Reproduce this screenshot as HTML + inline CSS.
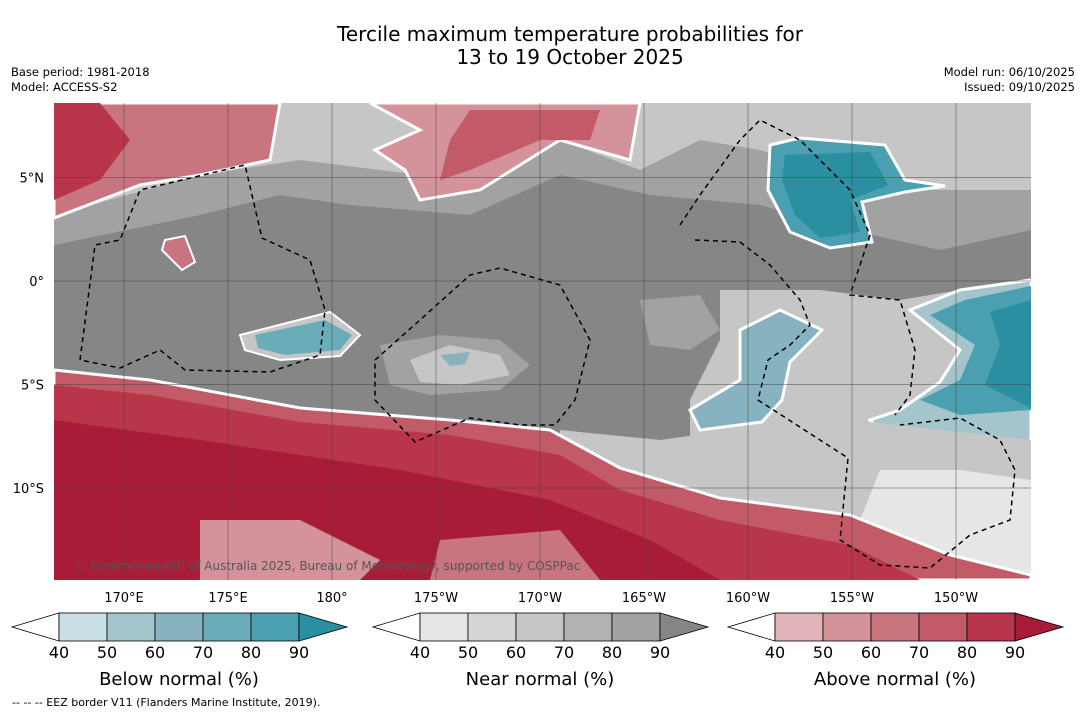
<!DOCTYPE html>
<html><head><meta charset="utf-8"><style>
body{margin:0;background:#fff;font-family:"DejaVu Sans","Liberation Sans",sans-serif;}
svg{display:block}
</style></head><body>
<svg width="1085" height="713" viewBox="0 0 1085 713">
<text x="570" y="41" font-size="20" text-anchor="middle">Tercile maximum temperature probabilities for</text>
<text x="570" y="64" font-size="20" text-anchor="middle">13 to 19 October 2025</text>
<text x="11" y="76" font-size="11.5">Base period: 1981-2018</text>
<text x="11" y="91" font-size="11.5">Model: ACCESS-S2</text>
<text x="1075" y="76" font-size="11.5" text-anchor="end">Model run: 06/10/2025</text>
<text x="1075" y="91" font-size="11.5" text-anchor="end">Issued: 09/10/2025</text>
<defs><clipPath id="mc"><rect x="54" y="103" width="977" height="477"/></clipPath></defs>
<g clip-path="url(#mc)">
<rect x="54" y="103" width="977" height="477" fill="#868686"/>
<polygon fill="#a2a2a2" points="54,103 1031,103 1031,230 940,250 850,230 760,205 650,195 560,175 470,215 350,205 280,195 200,215 54,245"/>
<polygon fill="#c6c6c6" points="54,103 1031,103 1031,190 900,190 760,150 700,140 640,170 560,140 460,180 380,170 300,160 200,175 54,215"/>
<polygon fill="#c97580" stroke="#fff" stroke-width="3" points="54,103 280,103 270,160 200,175 140,185 54,218"/>
<polygon fill="#b8354a" points="54,103 100,103 130,140 100,180 54,200"/>
<polygon fill="#d4939a" stroke="#fff" stroke-width="3" points="370,103 640,103 630,160 560,140 480,190 420,200 405,170 375,150 420,130"/>
<polygon fill="#c25a68" points="470,110 600,110 590,140 540,140 470,170 440,180 450,140"/>
<polygon fill="#4a9fb0" stroke="#fff" stroke-width="3" points="770,145 800,138 885,145 905,180 945,186 905,192 862,202 872,242 830,248 790,232 768,190"/>
<polygon fill="#2a8fa0" points="785,155 870,152 888,185 850,200 860,232 820,238 795,215 782,180"/>
<polygon fill="#c97580" stroke="#fff" stroke-width="2" points="165,240 185,236 195,262 182,270 162,250"/>
<polygon fill="#a2a2a2" points="640,300 700,295 720,330 690,350 650,345"/>
<polygon fill="#c6c6c6" points="720,290 820,290 900,300 960,290 1031,280 1031,460 900,470 830,440 760,440 690,440 690,400 720,340"/>
<polygon fill="#a3c5cb" stroke="#fff" stroke-width="3" points="1031,280 960,290 910,310 960,350 940,382 900,410 870,420 900,452 950,462 1000,456 1031,450"/>
<polygon fill="#4a9fb0" points="1031,286 965,300 930,315 975,345 960,380 920,400 960,415 1031,410"/>
<polygon fill="#2a8fa0" points="1031,300 990,312 1000,345 985,385 1031,408"/>
<polygon fill="#86b3bf" stroke="#fff" stroke-width="3" points="740,330 780,310 822,330 790,362 782,400 762,422 700,430 690,410 740,380"/>
<polygon fill="#c6c6c6" stroke="#fff" stroke-width="2" points="240,335 330,312 360,335 340,356 280,360 245,350"/>
<polygon fill="#6aacb7" points="255,335 325,320 352,335 340,350 285,355 258,348"/>
<polygon fill="#a2a2a2" points="380,345 440,335 500,340 530,365 500,390 430,395 390,385"/>
<polygon fill="#c6c6c6" points="410,360 450,345 500,355 510,375 460,385 420,382"/>
<polygon fill="#86b3bf" points="440,355 470,352 465,364 450,366"/>
<polygon fill="#c6c6c6" points="560,430 660,440 730,430 850,420 1031,440 1031,580 560,580"/>
<polygon fill="#e6e6e6" points="880,470 960,470 1031,480 1031,580 900,560 860,520"/>
<polygon fill="#c25a68" stroke="#fff" stroke-width="3" points="54,370 150,380 300,408 450,420 550,430 620,468 720,498 850,515 950,555 1031,575 1031,580 54,580"/>
<polygon fill="#b8354a" points="54,385 150,395 300,422 450,435 560,455 620,490 720,520 850,545 920,580 54,580"/>
<polygon fill="#a81c38" points="54,420 200,440 400,470 550,500 650,540 720,580 54,580"/>
<polygon fill="#d4939a" points="200,520 300,520 380,560 360,580 200,580"/>
<polygon fill="#c97580" points="440,540 560,530 600,580 430,580"/>
<g fill="none" stroke="#000" stroke-width="1.5" stroke-dasharray="5,4">
<polyline points="80,360 95,245 120,240 140,190 245,165 262,238 310,260 325,310 320,355 270,372 185,370 160,350 120,368 80,360"/>
<polyline points="375,360 420,320 470,275 500,268 560,285 590,340 575,400 555,425 520,425 470,418 415,442 375,400 375,360"/>
<polyline points="680,225 700,195 740,140 760,120 800,140 850,190 870,235 850,295 900,300 915,350 910,395 895,415"/>
<polyline points="695,240 740,242 770,265 800,300 810,325 790,345 768,360 758,400 848,458 840,540 880,565 930,568 970,535 1010,520 1015,470 1000,440 960,418 900,425"/>
</g>
<g id="grid"></g>
<text x="75" y="570" font-size="12" fill="#555">© Commonwealth of Australia 2025, Bureau of Meteorology, supported by COSPPac</text>
</g>
<g id="axes"></g>
<g id="bars"></g>
<text x="12" y="706" font-size="11">--  --  -- EEZ border V11 (Flanders Marine Institute, 2019).</text>
</svg>
<script>
const lonTicks=[170,175,180,-175,-170,-165,-160,-155,-150];
const lonLabels=["170°E","175°E","180°","175°W","170°W","165°W","160°W","155°W","150°W"];
const latTicks=[5,0,-5,-10];
const latLabels=["5°N","0°","5°S","10°S"];
const levels=[40,50,60,70,80,90];
const belowColors=["#c8e0e6","#a3c5cb","#86b3bf","#6aacb7","#4a9fb0","#2a8fa0"];
const nearColors=["#e6e6e6","#d6d6d6","#c6c6c6","#b2b2b2","#a2a2a2","#868686"];
const aboveColors=["#e0b4b8","#d4939a","#c97580","#c25a68","#b8354a","#a81c38"];
const NS="http://www.w3.org/2000/svg";
function xLon(l){const e=l<0?360+l:l;return 124+(e-170)*20.8;}
function yLat(l){return 281-l*20.7;}
function mk(t,a,p){const e=document.createElementNS(NS,t);for(const k in a)e.setAttribute(k,a[k]);p.appendChild(e);return e;}
const grid=document.getElementById('grid'),axes=document.getElementById('axes'),bars=document.getElementById('bars');
lonTicks.forEach((l,i)=>{const x=xLon(l);
const ln=mk('line',{x1:x,x2:x,y1:103,y2:580,stroke:'#444','stroke-width':0.5},grid);

const t=mk('text',{x:x,y:602,'font-size':13,'text-anchor':'middle'},axes);t.textContent=lonLabels[i];
});
latTicks.forEach((l,i)=>{const y=yLat(l);
const ln=mk('line',{x1:54,x2:1031,y1:y,y2:y,stroke:'#444','stroke-width':0.5},grid);

const t=mk('text',{x:44,y:y+5,'font-size':13,'text-anchor':'end'},axes);t.textContent=latLabels[i];
});
function colorbar(x0,colors,title,name){
const w=48,y=613,h=28;
const g=mk('g',{},bars);
mk('polygon',{points:`${x0},${y+h/2} ${x0+47},${y} ${x0+47},${y+h}`,fill:'#fff',stroke:'#000','stroke-width':0.8},g);
colors.slice(0,5).forEach((c,i)=>{const r=mk('rect',{x:x0+47+i*w,y:y,width:w,height:h,fill:c,stroke:'#000','stroke-width':0.8},g);
});
const xe=x0+47+5*w;
mk('polygon',{points:`${xe},${y} ${xe+48},${y+h/2} ${xe},${y+h}`,fill:colors[5],stroke:'#000','stroke-width':0.8},g);
levels.forEach((v,i)=>{const t=mk('text',{x:x0+47+i*w,y:658,'font-size':16,'text-anchor':'middle'},g);t.textContent=v;
});
const tt=mk('text',{x:x0+47+2.5*w,y:685,'font-size':18,'text-anchor':'middle'},g);tt.textContent=title;
}
colorbar(12,belowColors,'Below normal (%)','below-normal-colorbar');
colorbar(373,nearColors,'Near normal (%)','near-normal-colorbar');
colorbar(728,aboveColors,'Above normal (%)','above-normal-colorbar');
</script>
</body></html>
